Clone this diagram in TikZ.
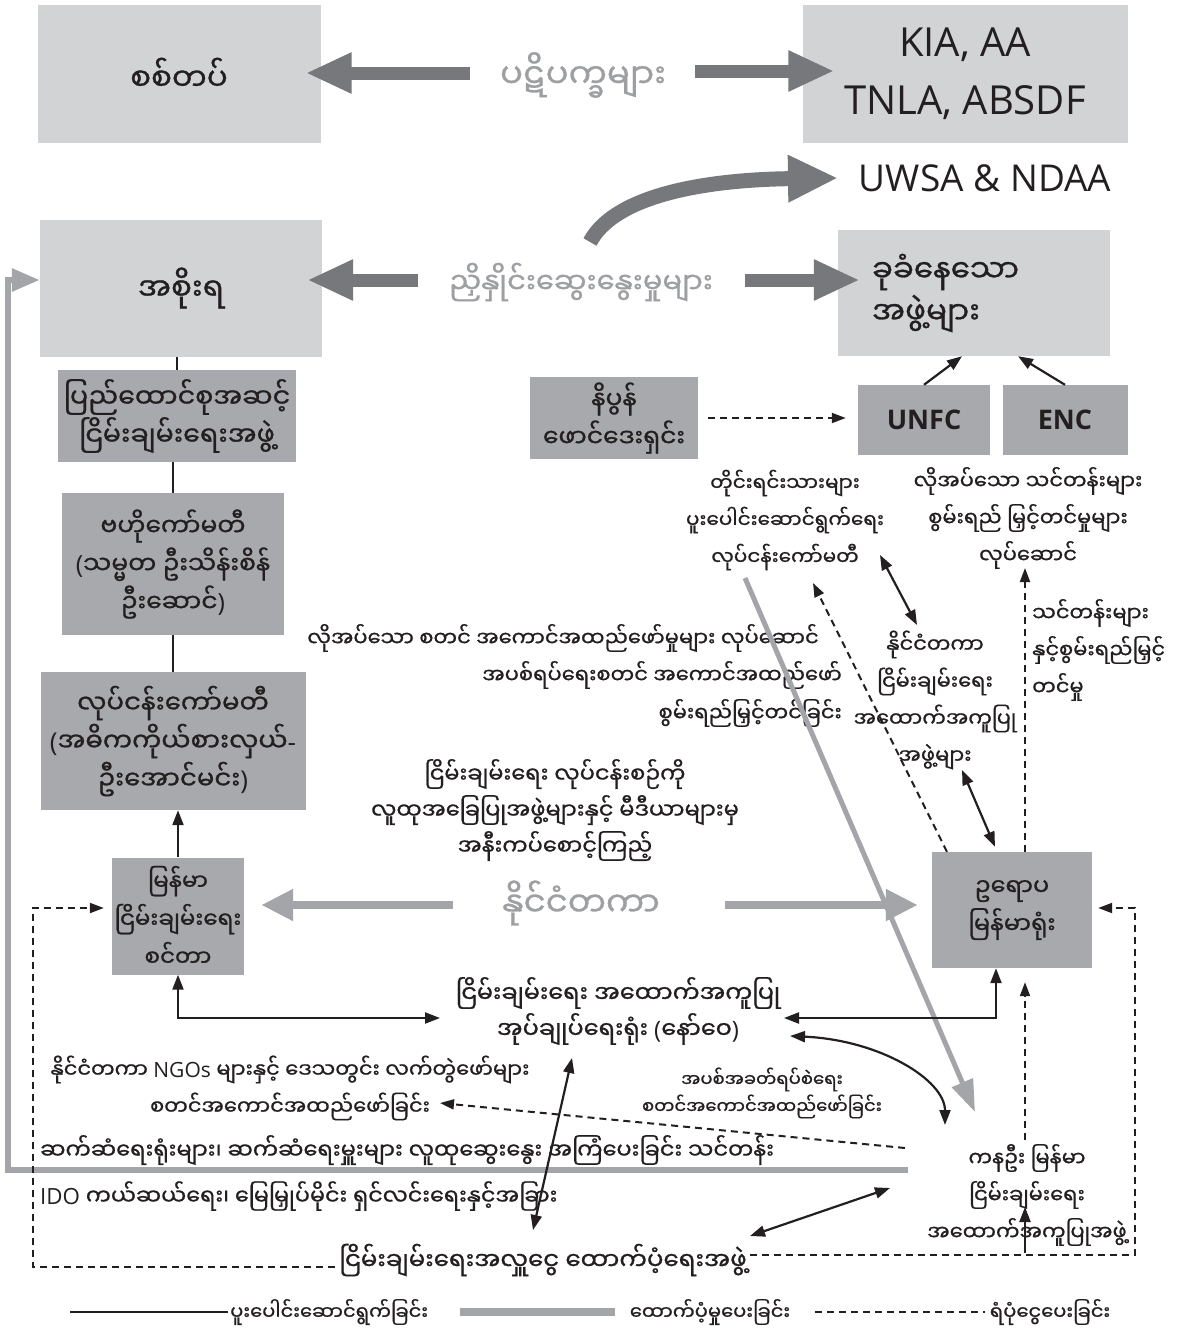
\documentclass[tikz,border=0pt]{standalone}
\usepackage{fontspec}
\setmainfont{Open Sans}
\newfontfamily\my[Script=Myanmar,FakeBold=0.9]{Noto Sans Myanmar UI}
\newfontfamily\lat{Open Sans}
\usetikzlibrary{arrows.meta}
\definecolor{boxlight}{HTML}{D1D3D4}
\definecolor{boxdark}{HTML}{A7A9AC}
\definecolor{arrdark}{HTML}{77787B}
\definecolor{graytxt}{HTML}{9D9FA2}
\definecolor{grayln}{HTML}{A3A5A8}
\definecolor{ink}{HTML}{231F20}
\begin{document}
\begin{tikzpicture}[x=1pt,y=-1pt,
 lbox/.style={fill=boxlight, inner sep=0pt, align=center, text=ink, font=\my\fontsize{31}{42}\selectfont},
 dbox/.style={fill=boxdark, inner sep=0pt, align=center, text=ink, font=\my\fontsize{25}{38}\selectfont},
 ann/.style={inner sep=0pt, align=center, text=ink, font=\my\fontsize{21}{37}\selectfont},
 smalltxt/.style={inner sep=0pt, align=center, text=ink, font=\my\fontsize{18}{27}\selectfont},
 gtxt/.style={inner sep=0pt, text=graytxt, font=\my\fontsize{34}{40}\selectfont},
 bigarr/.style={draw=arrdark, line width=13pt, -{Triangle[length=46pt,width=38pt]}},
 grayarr/.style={draw=grayln, line width=8pt, -{Triangle[length=32pt,width=30pt]}},
 conn/.style={draw=ink, line width=2.2pt},
 onearr/.style={conn, -{Triangle[length=15pt,width=11pt]}},
 twoarr/.style={conn, {Triangle[length=15pt,width=11pt]}-{Triangle[length=15pt,width=11pt]}},
 dashln/.style={draw=ink, line width=2pt, dash pattern=on 7pt off 5pt},
 dsharr/.style={dashln, -{Triangle[length=14pt,width=10pt]}},
]
\useasboundingbox (0,0) rectangle (1180,1331);

% ---------- boxes ----------
\node[lbox, minimum width=283pt, minimum height=138pt] (army) at (179,74) {စစ်တပ်};
\node[lbox, font=\lat\fontsize{40}{58}\selectfont, minimum width=325pt, minimum height=138pt] (kia) at (965,74) {KIA, AA\\TNLA, ABSDF};
\node[inner sep=0pt, text=ink, font=\lat\fontsize{37}{40}\selectfont] (uwsa) at (985,178) {UWSA \& NDAA};
\node[lbox, minimum width=282pt, minimum height=137pt] (govt) at (181,288) {အစိုးရ};
\node[lbox, align=left, text width=204pt, minimum width=272pt, minimum height=126pt] (eth) at (974,293) {ခုခံနေသော\\အဖွဲ့များ};

\node[dbox, font=\my\fontsize{27}{38}\selectfont, minimum width=238pt, minimum height=92pt] (union) at (177,416) {ပြည်ထောင်စုအဆင့်\\ငြိမ်းချမ်းရေးအဖွဲ့};
\node[dbox, minimum width=222pt, minimum height=142pt] (central) at (173,564) {ဗဟိုကော်မတီ\\{\lat(}သမ္မတ ဦးသိန်းစိန်\\ဦးဆောင်{\lat)}};
\node[dbox, font=\my\fontsize{26}{38}\selectfont, minimum width=265pt, minimum height=138pt] (work) at (173,741) {လုပ်ငန်းကော်မတီ\\{\lat(}အဓိကကိုယ်စားလှယ်{\lat-}\\ဦးအောင်မင်း{\lat)}};
\node[dbox, minimum width=168pt, minimum height=82pt] (nippon) at (614,418) {နိပွန်\\ဖောင်ဒေးရှင်း};
\node[dbox, font=\lat\bfseries\fontsize{27}{30}\selectfont, minimum width=132pt, minimum height=70pt] (unfc) at (924,420) {UNFC};
\node[dbox, font=\lat\bfseries\fontsize{27}{30}\selectfont, minimum width=125pt, minimum height=70pt] (enc) at (1065,420) {ENC};
\node[dbox, font=\my\fontsize{23}{38}\selectfont, minimum width=132pt, minimum height=117pt] (mpc) at (178,916) {မြန်မာ\\ငြိမ်းချမ်းရေး\\စင်တာ};
\node[dbox, font=\my\fontsize{24}{38}\selectfont, minimum width=160pt, minimum height=116pt] (eu) at (1012,910) {ဥရောပ\\မြန်မာရုံး};

% ---------- texts ----------
\node[gtxt] (conf) at (583,75) {ပဋိပက္ခများ};
\node[gtxt, font=\my\fontsize{29}{40}\selectfont] (nego) at (581,282) {ညှိနှိုင်းဆွေးနွေးမှုများ};
\node[gtxt] (intl) at (581,903) {နိုင်ငံတကာ};

\node[ann, font=\my\fontsize{20}{37}\selectfont] (ethcom) at (785,520) {တိုင်းရင်းသားများ\\ပူးပေါင်းဆောင်ရွက်ရေး\\လုပ်ငန်းကော်မတီ};
\node[ann] (trainreq) at (1028,518) {လိုအပ်သော သင်တန်းများ\\စွမ်းရည် မြှင့်တင်မှုများ\\လုပ်ဆောင်};
\node[ann, align=left, anchor=west] (trainsup) at (1032,650) {သင်တန်းများ\\နှင့်စွမ်းရည်မြှင့်\\တင်မှု};
\node[ann] (imp1) at (563,638) {လိုအပ်သော စတင် အကောင်အထည်ဖော်မှုများ လုပ်ဆောင်};
\node[ann, anchor=east] (imp2) at (842,675) {အပစ်ရပ်ရေးစတင် အကောင်အထည်ဖော်};
\node[ann, anchor=east] (imp3) at (842,713) {စွမ်းရည်မြှင့်တင်ခြင်း};
\node[ann] (intlsup) at (935,700) {နိုင်ငံတကာ\\ငြိမ်းချမ်းရေး\\အထောက်အကူပြု\\အဖွဲ့များ};
\node[ann, font=\my\fontsize{22.5}{36}\selectfont] (monitor) at (555,810) {ငြိမ်းချမ်းရေး လုပ်ငန်းစဉ်ကို\\လူထုအခြေပြုအဖွဲ့များနှင့် မီဒီယာများမှ\\အနီးကပ်စောင့်ကြည့်};
\node[ann, font=\my\fontsize{24}{36}\selectfont] (noradmin) at (618,1011) {ငြိမ်းချမ်းရေး အထောက်အကူပြု\\အုပ်ချုပ်ရေးရုံး {\lat(}နော်ဝေ{\lat)}};
\node[ann] (ngos) at (290,1088) {နိုင်ငံတကာ {\lat NGOs} များနှင့် ဒေသတွင်း လက်တွဲဖော်များ\\စတင်အကောင်အထည်ဖော်ခြင်း};
\node[smalltxt] (cease) at (762,1093) {အပစ်အခတ်ရပ်စဲရေး\\စတင်အကောင်အထည်ဖော်ခြင်း};
\node[ann, font=\my\fontsize{22.5}{36}\selectfont, anchor=west] (liaison) at (40,1150) {ဆက်ဆံရေးရုံးများ၊ ဆက်ဆံရေးမှူးများ လူထုဆွေးနွေး အကြံပေးခြင်း သင်တန်း};
\node[ann, font=\my\fontsize{22.3}{36}\selectfont, anchor=west] (ido) at (40,1196) {{\lat IDO} ကယ်ဆယ်ရေး၊ မြေမြှုပ်မိုင်း ရှင်လင်းရေးနှင့်အခြား};
\node[ann] (kanu) at (1027,1195) {ကနဦး မြန်မာ\\ငြိမ်းချမ်းရေး\\အထောက်အကူပြုအဖွဲ့};
\node[ann, font=\my\fontsize{24.5}{36}\selectfont] (donor) at (543,1260) {ငြိမ်းချမ်းရေးအလှူငွေ ထောက်ပံ့ရေးအဖွဲ့};

% ---------- coordinates for free ends ----------
\coordinate (a0) at (470,73);
\coordinate (b0) at (695,71);
\coordinate (c0) at (418,280);
\coordinate (d0) at (745,280);
\coordinate (e0) at (590,242);
\coordinate (e1) at (838,178);
\coordinate (f0) at (453,905);
\coordinate (g0) at (725,905);
\coordinate (h0) at (745,578);
\coordinate (h1) at (975,1112);
\coordinate (fr0) at (908,1170);
\coordinate (n1) at (440,1018);
\coordinate (o1) at (784,1018);
\coordinate (p0) at (790,1036);
\coordinate (p1) at (945,1125);
\coordinate (q0) at (572,1058);
\coordinate (q1) at (533,1230);
\coordinate (r0) at (750,1236);
\coordinate (r1) at (890,1188);
\coordinate (u0) at (880,555);
\coordinate (u1) at (917,625);
\coordinate (v0) at (962,770);
\coordinate (w0) at (1025,1253);
\coordinate (w1) at (1025,1207);
\coordinate (y1) at (813,583);
\coordinate (z1) at (1025,568);
\coordinate (aa0) at (1025,1140);
\coordinate (bb0) at (905,1148);
\coordinate (bb1) at (440,1103);
\coordinate (cc0) at (335,1267);
\coordinate (dd0) at (750,1255);

% ---------- big dark arrows ----------
\draw[bigarr] (a0) -- ([xshift=-15pt,yshift=1pt]army.east);
\draw[bigarr] (b0) -- ([xshift=32pt,yshift=3pt]kia.west);
\draw[bigarr] (c0) -- ([xshift=-15pt,yshift=8pt]govt.east);
\draw[bigarr] (d0) -- ([xshift=22pt,yshift=13pt]eth.west);
\draw[draw=arrdark, line width=15pt, -{Triangle[length=50pt,width=44pt]}] (e0) .. controls (612,200) and (690,180) .. (e1);

% ---------- gray arrows ----------
\draw[grayarr] (f0) -- ([xshift=17pt,yshift=11pt]mpc.east);
\draw[grayarr] (g0) -- ([xshift=-14pt,yshift=5pt]eu.west);
\draw[draw=grayln, line width=5pt, -{Triangle[length=32pt,width=22pt]}] (h0) -- (h1);
\draw[draw=grayln, line width=6pt, -{Triangle[length=28pt,width=22pt]}] (fr0) -- (8,1170) -- (8,280) -- ([yshift=8pt]govt.west);

% ---------- solid connectors ----------
\draw[conn] (union.north) -- (union.north |- govt.south);
\draw[conn] (central.north) -- (central.north |- union.south);
\draw[conn] (work.north) -- (work.north |- central.south);
\draw[onearr] (mpc.north) -- (mpc.north |- work.south);
\draw[twoarr] (mpc.south) |- (n1);
\draw[twoarr] ([xshift=-16pt]eu.south) |- (o1);
\draw[twoarr] (p0) .. controls (880,1040) and (945,1080) .. (p1);
\draw[twoarr] (q0) -- (q1);
\draw[twoarr] (r0) -- (r1);
\draw[onearr] (unfc.north) -- ([xshift=-12pt]eth.south);
\draw[onearr] (enc.north) -- ([xshift=44pt]eth.south);
\draw[twoarr] (u0) -- (u1);
\draw[twoarr] (v0) -- ([xshift=-17pt,yshift=5pt]eu.north);
\draw[onearr] (w0) -- (w1);

% ---------- dashed connectors ----------
\draw[dsharr] ([xshift=10pt]nippon.east) -- ([xshift=-12pt]nippon.east -| unfc.west);
\draw[dsharr] ([xshift=-65pt]eu.north) -- (y1);
\draw[dsharr] ([xshift=13pt]eu.north) -- (z1);
\draw[dsharr] (aa0) -- ([xshift=13pt,yshift=-14pt]eu.south);
\draw[dsharr] (bb0) -- (bb1);
\draw[dsharr] (cc0) -- (33,1267) -- (33,908) -- ([xshift=-8pt,yshift=8pt]mpc.west);
\draw[dsharr] (dd0) -- (1135,1255) -- (1135,908) -- ([xshift=6pt,yshift=2pt]eu.east);

% ---------- legend ----------
\coordinate (l1a) at (70,1312);
\coordinate (l1b) at (228,1312);
\coordinate (l2a) at (460,1312);
\coordinate (l2b) at (615,1312);
\coordinate (l3a) at (815,1312);
\coordinate (l3b) at (985,1312);
\draw[conn] (l1a) -- (l1b);
\node[smalltxt, font=\my\fontsize{19.5}{27}\selectfont, anchor=west] (lg1) at (230,1312) {ပူးပေါင်းဆောင်ရွက်ခြင်း};
\draw[draw=grayln, line width=8pt] (l2a) -- (l2b);
\node[smalltxt, font=\my\fontsize{19.5}{27}\selectfont] (lg2) at (710,1312) {ထောက်ပံ့မှုပေးခြင်း};
\draw[dashln] (l3a) -- (l3b);
\node[smalltxt, font=\my\fontsize{19.5}{27}\selectfont] (lg3) at (1050,1312) {ရံပုံငွေပေးခြင်း};
\end{tikzpicture}
\end{document}
